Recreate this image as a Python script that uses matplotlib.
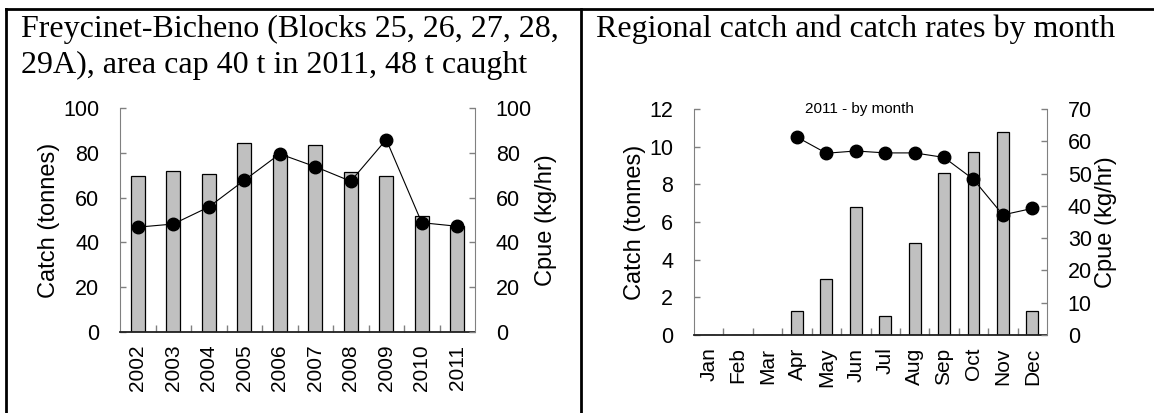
import matplotlib
matplotlib.use("Agg")
import matplotlib.pyplot as plt
from matplotlib.lines import Line2D
import numpy as np

# ---- data ----
years = ["2002", "2003", "2004", "2005", "2006", "2007", "2008", "2009", "2010", "2011"]
year_catch = [69.5, 71.7, 70.5, 84.5, 79.0, 83.6, 71.5, 69.5, 52.0, 47.5]
year_cpue = [46.8, 48.2, 55.8, 67.7, 79.5, 73.8, 67.3, 85.9, 48.8, 47.2]

months = ["Jan", "Feb", "Mar", "Apr", "May", "Jun", "Jul", "Aug", "Sep", "Oct", "Nov", "Dec"]
month_catch = [0, 0, 0, 1.3, 3.0, 6.8, 1.0, 4.9, 8.6, 9.7, 10.8, 1.3]
month_cpue = [np.nan, np.nan, np.nan, 61.3, 56.3, 57.0, 56.4, 56.4, 55.0, 48.2, 37.2, 39.2]

title_left = "Freycinet-Bicheno (Blocks 25, 26, 27, 28,\n29A), area cap 40 t in 2011, 48 t caught"
title_right = "Regional catch and catch rates by month"
inner_label = "2011 - by month"

W, H = 1154, 413
plt.rcParams['font.family'] = ['Liberation Sans', 'DejaVu Sans']
fig = plt.figure(figsize=(W / 100, H / 100), dpi=100)

SPINE_GRAY = "#808080"
TICK_FS = 15.5
XTICK_FS = 15
LABEL_FS = 17


def px_axes(x0, y0, x1, y1):
    return fig.add_axes([x0 / W, 1 - y1 / H, (x1 - x0) / W, (y1 - y0) / H])


def make_panel(ax, cats, catch, cpue, ylim_l, yticks_l, ylim_r, yticks_r):
    n = len(cats)
    x = np.arange(n)
    ax.bar(x, catch, width=0.4, color="#c0c0c0", edgecolor="black", linewidth=0.9, zorder=2)
    ax.set_xlim(-0.5, n - 0.5)
    ax.set_ylim(*ylim_l)
    ax.set_yticks(yticks_l)
    ax.set_xticks(x)
    ax.set_xticklabels(cats, rotation=90, fontsize=XTICK_FS)
    ax.set_xticks(np.arange(0.5, n - 0.5, 1), minor=True)
    ax.tick_params(axis="x", which="major", length=0, pad=9)
    ax.tick_params(axis="x", which="minor", length=5, direction="in", color=SPINE_GRAY, width=1)
    ax.tick_params(axis="y", which="major", length=4.5, direction="in", color=SPINE_GRAY,
                   width=1, labelsize=TICK_FS, pad=15)
    ax.set_ylabel("Catch (tonnes)", fontsize=LABEL_FS, labelpad=2)
    for s in ["top", "right"]:
        ax.spines[s].set_visible(False)
    ax.spines["left"].set_color(SPINE_GRAY)
    ax.spines["bottom"].set_color("#202020")
    ax.spines["bottom"].set_linewidth(1.3)
    ax.spines["bottom"].set_zorder(3)

    ax2 = ax.twinx()
    ax2.plot(x, cpue, color="black", linewidth=0.8, marker="o", markersize=9, zorder=4)
    ax2.set_ylim(*ylim_r)
    ax2.set_yticks(yticks_r)
    ax2.tick_params(axis="y", which="major", length=4.5, direction="in", color=SPINE_GRAY,
                    width=1, labelsize=TICK_FS, pad=15)
    ax2.set_ylabel("Cpue (kg/hr)", fontsize=LABEL_FS, labelpad=2)
    for s in ["top", "left", "bottom"]:
        ax2.spines[s].set_visible(False)
    ax2.spines["right"].set_color(SPINE_GRAY)
    return ax2


axL = px_axes(120, 108, 475, 332)
make_panel(axL, years, year_catch, year_cpue, (0, 100), np.arange(0, 101, 20),
           (0, 100), np.arange(0, 101, 20))

axR = px_axes(694, 109, 1047, 335)
make_panel(axR, months, month_catch, month_cpue, (0, 12), np.arange(0, 13, 2),
           (0, 70), np.arange(0, 71, 10))
axR.text(0.47, 1.0, inner_label, transform=axR.transAxes, ha="center", va="center",
         fontsize=11)

# titles
fig.text(21 / W, 1 - 15 / H, title_left, family="Liberation Serif", fontsize=23,
         ha="left", va="top", linespacing=1.3)
fig.text(596 / W, 1 - 15 / H, title_right, family="Liberation Serif", fontsize=23,
         ha="left", va="top")

# frame lines
lw = 2.0
fig.add_artist(Line2D([6 / W, 1.0], [1 - 9 / H, 1 - 9 / H], transform=fig.transFigure,
                      color="black", linewidth=lw))
fig.add_artist(Line2D([6 / W, 6 / W], [0, 1 - 9 / H], transform=fig.transFigure,
                      color="black", linewidth=lw))
fig.add_artist(Line2D([581 / W, 581 / W], [0, 1 - 9 / H], transform=fig.transFigure,
                      color="black", linewidth=lw))

fig.savefig("out.png", dpi=100)
